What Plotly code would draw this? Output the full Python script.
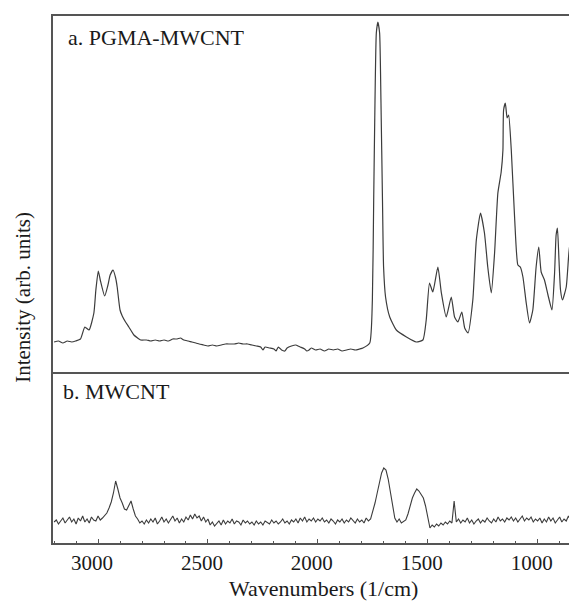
import plotly.graph_objects as go

# ---------------- data ----------------
# a. PGMA-MWCNT  (wavenumber, intensity in arbitrary units)
pgma_wn = [3200, 3180, 3160, 3140, 3120, 3102, 3080, 3060, 3041, 3019, 3010, 2999, 2990,
           2970, 2955, 2945, 2932, 2920, 2913, 2900, 2890, 2875, 2860, 2837, 2820, 2806,
           2780, 2760, 2740, 2720, 2700, 2680, 2660, 2640, 2625, 2610, 2590, 2573, 2555,
           2540, 2520, 2500, 2480, 2460, 2440, 2420, 2400, 2380, 2360, 2340, 2320, 2300,
           2280, 2260, 2250, 2240, 2220, 2200, 2190, 2180, 2165, 2150, 2140, 2120, 2100,
           2090, 2080, 2060, 2050, 2040, 2030, 2010, 1990, 1970, 1950, 1930, 1910, 1890,
           1870, 1850, 1830, 1810, 1795, 1764, 1752, 1746, 1740, 1734, 1727, 1719, 1713,
           1706, 1701, 1692, 1673, 1643, 1597, 1552, 1522, 1507, 1492, 1477, 1454, 1438,
           1416, 1393, 1378, 1363, 1345, 1332, 1317, 1295, 1279, 1260, 1242, 1227, 1211,
           1196, 1181, 1166, 1158, 1155, 1147, 1139, 1132, 1120, 1105, 1090, 1079, 1067,
           1052, 1037, 1022, 1007, 995, 984, 969, 953, 935, 923, 916, 910, 903, 896, 887,
           870, 858, 848, 837, 823, 815]
pgma_int = [30, 31, 29, 31, 30, 31, 33, 45, 42, 59, 82, 101, 92,
            76, 87, 97, 102, 94, 85, 62, 56, 50, 45, 37, 34, 32,
            32, 31, 32, 31, 32, 31, 33, 33, 34, 32, 31, 30, 29,
            28, 27, 26, 27, 26, 27, 28, 28, 28, 29, 28, 28, 27,
            26, 25, 22, 25, 24, 23, 21, 25, 22, 21, 24, 26, 27,
            26, 25, 23, 21, 22, 24, 22, 23, 21, 23, 22, 23, 21,
            22, 23, 22, 23, 24, 29, 72, 172, 272, 339, 350, 339, 272,
            172, 105, 75, 55, 42, 35, 30, 32, 52, 89, 80, 105, 79,
            55, 75, 55, 50, 60, 44, 39, 72, 132, 159, 139, 105, 79,
            119, 179, 200, 222, 262, 269, 254, 257, 222, 155, 107, 105, 95,
            69, 49, 62, 105, 125, 100, 92, 77, 62, 99, 137, 144, 112, 82, 72,
            85, 119, 136, 127, 82, 60]

# b. MWCNT (wavenumber grid 3200 -> 820 step 10, intensity in arbitrary units)
mwcnt_wn = list(range(3200, 819, -10))
mwcnt_int = [
    # 3200 - 2980
    21, 23, 19, 22, 25, 20, 23, 26, 21, 24, 19, 25, 22, 27, 21, 24, 20, 26, 23, 22, 27, 23, 25,
    # 2970 - 2790
    28, 30, 35, 41, 50, 62, 54, 45, 40, 34, 33, 38, 42, 34, 27, 24, 20, 22, 19,
    # 2780 - 1770
    23, 20, 24, 21, 25, 19, 22, 26, 21, 24,
    20, 23, 27, 22, 25, 20, 24, 21, 26, 23,
    28, 24, 29, 25, 27, 22, 26, 21, 24, 18,
    21, 17, 20, 22, 18, 23, 19, 22, 20, 24,
    19, 22, 21, 18, 23, 20, 22, 19, 21, 18,
    22, 19, 21, 18, 22, 20, 19, 23, 20, 22,
    19, 21, 24, 20, 22, 19, 23, 21, 24, 20,
    25, 22, 26, 21, 24, 22, 25, 21, 24, 22,
    25, 21, 23, 20, 24, 22, 19, 23, 21, 24,
    20, 23, 21, 25, 22, 20, 24, 21, 23, 20,
    25, 22,
    # 1760 - 1360
    24, 31, 40, 50, 61, 70, 75, 73, 64, 50,
    35, 25, 21, 24, 20, 22, 23, 29, 37, 45,
    50, 54, 52, 49, 45, 37, 24, 15, 18, 16,
    19, 17, 20, 18, 21, 19, 22, 20, 42, 21,
    24,
    # 1350 - 820
    20, 23, 21, 25, 20, 23, 19, 22, 24, 20,
    23, 21, 25, 22, 20, 24, 21, 26, 22, 24,
    21, 25, 23, 26, 22, 25, 21, 24, 27, 22,
    25, 23, 26, 21, 24, 22, 25, 20, 24, 21,
    26, 22, 25, 20, 23, 26, 21, 24, 22, 27,
    23, 25, 22, 26,
]

x_ticks = [3000, 2500, 2000, 1500, 1000]
x_range = [3205, 821]
label_a = "a. PGMA-MWCNT"
label_b = "b. MWCNT"
x_title = "Wavenumbers (1/cm)"
y_title = "Intensity (arb. units)"

# ---------------- figure ----------------
FONT = "Liberation Serif, Times New Roman, serif"
LINE = "#3c3c3c"
FRAME = "#555555"
split = 0.3245

fig = go.Figure()
fig.add_trace(go.Scatter(x=pgma_wn, y=pgma_int, mode="lines",
                         line=dict(color=LINE, width=1.2, shape="spline", smoothing=0.5),
                         xaxis="x2", yaxis="y2", showlegend=False, hoverinfo="skip"))
fig.add_trace(go.Scatter(x=mwcnt_wn, y=mwcnt_int, mode="lines",
                         line=dict(color=LINE, width=1.1), xaxis="x", yaxis="y",
                         showlegend=False, hoverinfo="skip"))

# the page body adds an 8px margin, so the figure is 8px smaller and shifted
fig.update_layout(
    width=569, height=593,
    margin=dict(l=45, r=0, t=8, b=58),
    paper_bgcolor="white", plot_bgcolor="white",
    font=dict(family=FONT, size=21, color="#1a1a1a"),
    xaxis=dict(domain=[0, 1], anchor="y", range=x_range, tickvals=x_ticks,
               ticks="inside", ticklen=4, tickwidth=1.2, tickcolor=FRAME,
               minor=dict(dtick=100, ticks="inside", ticklen=2, tickwidth=1, tickcolor=FRAME),
               showline=True, linecolor=FRAME, linewidth=1.6, mirror=False,
               showgrid=False, zeroline=False, ticklabelshift=6,
               tickfont=dict(family=FONT, size=21, color="#1a1a1a")),
    xaxis2=dict(domain=[0, 1], anchor="y2", range=x_range, matches="x",
                showticklabels=False, ticks="", showline=True, linecolor=FRAME,
                linewidth=1.6, mirror=True, showgrid=False, zeroline=False),
    yaxis=dict(domain=[0, split], anchor="x", range=[0, 171], showticklabels=False,
               ticks="", showline=True, linecolor=FRAME, linewidth=1.6,
               showgrid=False, zeroline=False),
    yaxis2=dict(domain=[split, 1], anchor="x2", range=[0, 356], showticklabels=False,
                ticks="", showline=True, linecolor=FRAME, linewidth=1.6,
                showgrid=False, zeroline=False),
    annotations=[
        dict(text=label_a, xref="paper", yref="paper", x=0.0239, y=0.960,
             xanchor="left", yanchor="middle", showarrow=False,
             font=dict(family=FONT, size=22, color="#1a1a1a")),
        dict(text=label_b, xref="paper", yref="paper", x=0.0147, y=0.288,
             xanchor="left", yanchor="middle", showarrow=False,
             font=dict(family=FONT, size=22, color="#1a1a1a")),
        dict(text=x_title, xref="paper", yref="paper", x=0.517, y=-0.0854,
             xanchor="center", yanchor="middle", showarrow=False,
             font=dict(family=FONT, size=22, color="#1a1a1a")),
        dict(text=y_title, xref="paper", yref="paper", x=-0.0573, y=0.467,
             xanchor="center", yanchor="middle", showarrow=False, textangle=-90,
             font=dict(family=FONT, size=21, color="#1a1a1a")),
    ],
)

fig.write_html("out.html")
